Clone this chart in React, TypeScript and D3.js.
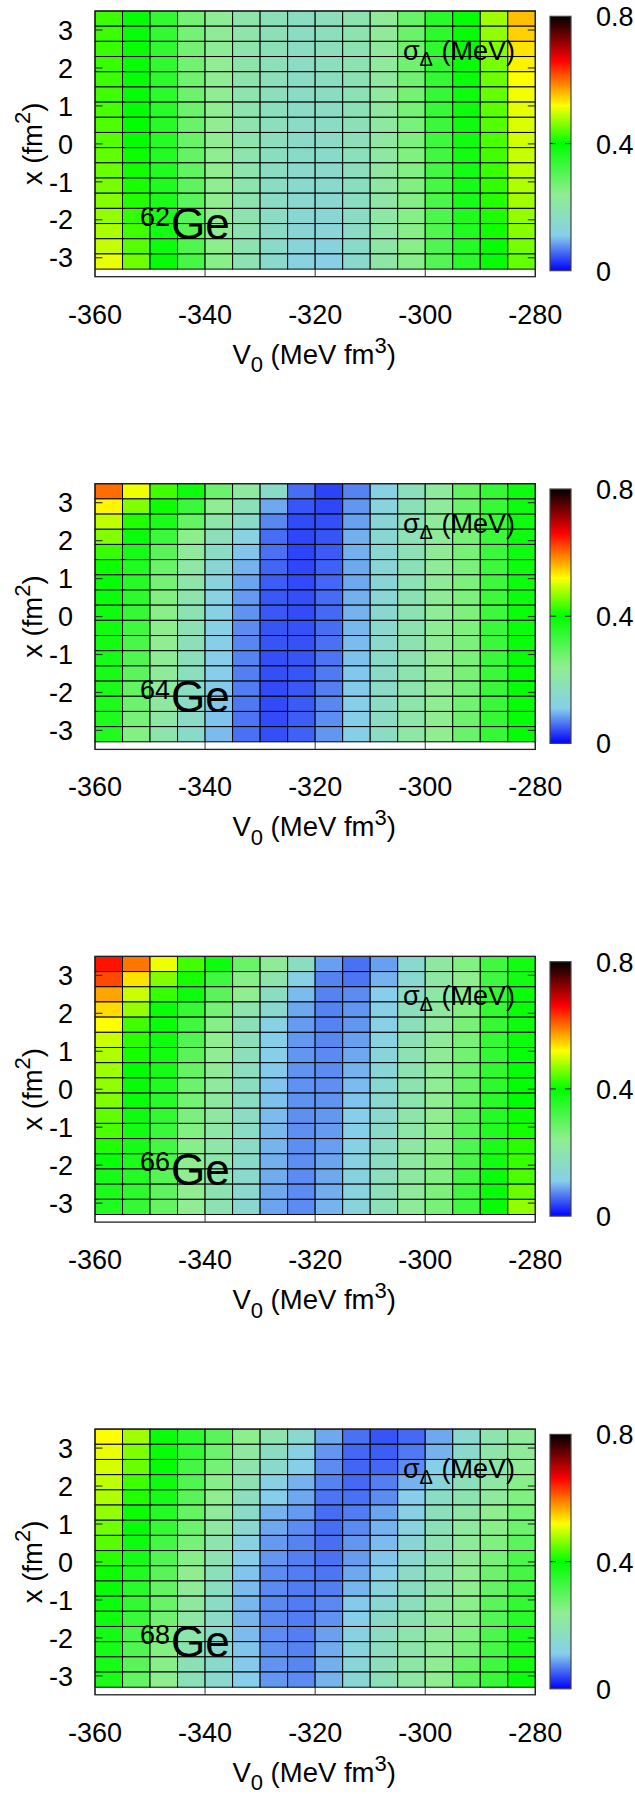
import React from "react";
import * as d3 from "d3";

// V0 cell left edges (MeV fm^3), each cell 5 wide
const v0Left = [-360, -355, -350, -345, -340, -335, -330, -325, -320, -315, -310, -305, -300, -295, -290, -285];
// x (fm^2) cell top edges, each cell 0.4 high (top row first)
const xTop = [3.5, 3.1, 2.7, 2.3, 1.9, 1.5, 1.1, 0.7, 0.3, -0.1, -0.5, -0.9, -1.3, -1.7, -2.1, -2.5, -2.9];
const cellW = 5;
const cellH = 0.4;

const xTicks = [-360, -340, -320, -300, -280];
const yTicks = [-3, -2, -1, 0, 1, 2, 3];
const cbTicks = [0, 0.4, 0.8];
const massNumbers = ["62", "64", "66", "68"];

const paletteStops = [0, 0.11, 0.24, 0.4, 0.52, 0.66, 0.8];
const paletteColors = ["#0000ff", "#87ceeb", "#90ee90", "#00ff00", "#ffff00", "#ff0000", "#000000"];

// sigma_Delta (MeV); one inner array per V0 column, rows from top (x=3.5) down
const ge62 = [
  [0.428, 0.427, 0.426, 0.426, 0.427, 0.43, 0.433, 0.437, 0.44, 0.445, 0.45, 0.456, 0.462, 0.47, 0.48, 0.492, 0.51],
  [0.395, 0.393, 0.392, 0.392, 0.393, 0.395, 0.397, 0.4, 0.402, 0.405, 0.408, 0.412, 0.417, 0.423, 0.43, 0.44, 0.452],
  [0.345, 0.345, 0.347, 0.348, 0.35, 0.352, 0.354, 0.356, 0.358, 0.36, 0.363, 0.366, 0.37, 0.375, 0.38, 0.386, 0.395],
  [0.27, 0.27, 0.272, 0.274, 0.276, 0.278, 0.28, 0.282, 0.285, 0.288, 0.291, 0.294, 0.298, 0.302, 0.307, 0.313, 0.322],
  [0.232, 0.232, 0.232, 0.233, 0.233, 0.234, 0.234, 0.235, 0.236, 0.237, 0.238, 0.239, 0.24, 0.241, 0.243, 0.245, 0.248],
  [0.203, 0.202, 0.202, 0.201, 0.201, 0.2, 0.2, 0.2, 0.2, 0.199, 0.199, 0.198, 0.197, 0.196, 0.195, 0.194, 0.193],
  [0.185, 0.184, 0.183, 0.182, 0.181, 0.18, 0.178, 0.176, 0.174, 0.172, 0.17, 0.168, 0.166, 0.163, 0.16, 0.157, 0.153],
  [0.17, 0.169, 0.168, 0.167, 0.166, 0.165, 0.163, 0.161, 0.159, 0.157, 0.155, 0.152, 0.149, 0.145, 0.14, 0.133, 0.125],
  [0.18, 0.178, 0.176, 0.174, 0.172, 0.17, 0.168, 0.165, 0.162, 0.159, 0.156, 0.152, 0.148, 0.143, 0.137, 0.128, 0.117],
  [0.197, 0.195, 0.193, 0.191, 0.189, 0.187, 0.185, 0.183, 0.181, 0.178, 0.175, 0.172, 0.169, 0.166, 0.162, 0.158, 0.153],
  [0.228, 0.226, 0.224, 0.222, 0.22, 0.219, 0.218, 0.217, 0.216, 0.215, 0.214, 0.213, 0.212, 0.211, 0.21, 0.209, 0.208],
  [0.285, 0.282, 0.279, 0.276, 0.273, 0.27, 0.267, 0.264, 0.261, 0.258, 0.256, 0.254, 0.252, 0.25, 0.249, 0.248, 0.247],
  [0.355, 0.352, 0.349, 0.346, 0.343, 0.34, 0.337, 0.334, 0.331, 0.328, 0.325, 0.322, 0.319, 0.316, 0.313, 0.31, 0.305],
  [0.398, 0.396, 0.394, 0.392, 0.39, 0.388, 0.386, 0.384, 0.382, 0.38, 0.378, 0.375, 0.372, 0.368, 0.364, 0.36, 0.355],
  [0.475, 0.468, 0.462, 0.456, 0.451, 0.447, 0.443, 0.439, 0.435, 0.431, 0.427, 0.423, 0.418, 0.413, 0.408, 0.402, 0.395],
  [0.555, 0.545, 0.535, 0.527, 0.52, 0.514, 0.508, 0.503, 0.498, 0.493, 0.488, 0.482, 0.476, 0.47, 0.463, 0.455, 0.447],
];

const ge64 = [
  [0.6, 0.525, 0.49, 0.46, 0.425, 0.405, 0.395, 0.39, 0.385, 0.383, 0.38, 0.378, 0.375, 0.372, 0.37, 0.368, 0.365],
  [0.513, 0.46, 0.415, 0.39, 0.375, 0.365, 0.358, 0.35, 0.342, 0.33, 0.32, 0.31, 0.298, 0.29, 0.28, 0.268, 0.255],
  [0.43, 0.405, 0.37, 0.335, 0.3, 0.285, 0.27, 0.257, 0.248, 0.242, 0.237, 0.232, 0.225, 0.22, 0.215, 0.21, 0.205],
  [0.385, 0.335, 0.29, 0.245, 0.225, 0.212, 0.205, 0.198, 0.192, 0.187, 0.182, 0.178, 0.174, 0.17, 0.166, 0.162, 0.158],
  [0.28, 0.235, 0.205, 0.18, 0.165, 0.14, 0.13, 0.125, 0.12, 0.117, 0.114, 0.112, 0.11, 0.108, 0.106, 0.104, 0.1],
  [0.22, 0.185, 0.16, 0.125, 0.105, 0.095, 0.088, 0.082, 0.078, 0.075, 0.072, 0.07, 0.068, 0.066, 0.064, 0.062, 0.06],
  [0.16, 0.09, 0.072, 0.058, 0.06, 0.054, 0.05, 0.047, 0.047, 0.045, 0.045, 0.042, 0.042, 0.04, 0.04, 0.04, 0.042],
  [0.058, 0.046, 0.04, 0.038, 0.037, 0.038, 0.04, 0.042, 0.041, 0.043, 0.044, 0.045, 0.046, 0.047, 0.048, 0.05, 0.052],
  [0.036, 0.038, 0.042, 0.045, 0.048, 0.052, 0.055, 0.057, 0.056, 0.058, 0.06, 0.062, 0.065, 0.068, 0.072, 0.076, 0.08],
  [0.07, 0.08, 0.086, 0.094, 0.094, 0.09, 0.09, 0.094, 0.095, 0.098, 0.1, 0.103, 0.106, 0.108, 0.11, 0.112, 0.116],
  [0.12, 0.13, 0.14, 0.145, 0.145, 0.14, 0.14, 0.143, 0.148, 0.152, 0.155, 0.158, 0.16, 0.162, 0.164, 0.166, 0.168],
  [0.18, 0.182, 0.184, 0.186, 0.186, 0.185, 0.186, 0.188, 0.19, 0.192, 0.194, 0.196, 0.198, 0.2, 0.203, 0.206, 0.21],
  [0.222, 0.224, 0.226, 0.228, 0.228, 0.228, 0.228, 0.229, 0.23, 0.231, 0.232, 0.233, 0.234, 0.235, 0.236, 0.237, 0.238],
  [0.29, 0.28, 0.275, 0.27, 0.265, 0.262, 0.26, 0.26, 0.26, 0.261, 0.262, 0.264, 0.266, 0.27, 0.274, 0.278, 0.282],
  [0.34, 0.338, 0.336, 0.334, 0.333, 0.332, 0.332, 0.332, 0.332, 0.333, 0.334, 0.335, 0.336, 0.337, 0.338, 0.34, 0.342],
  [0.385, 0.385, 0.385, 0.385, 0.385, 0.386, 0.387, 0.388, 0.389, 0.39, 0.39, 0.391, 0.392, 0.392, 0.393, 0.393, 0.394],
];

const ge66 = [
  [0.65, 0.62, 0.57, 0.54, 0.52, 0.495, 0.483, 0.475, 0.468, 0.46, 0.445, 0.435, 0.415, 0.39, 0.375, 0.37, 0.365],
  [0.595, 0.536, 0.495, 0.47, 0.43, 0.42, 0.41, 0.4, 0.395, 0.39, 0.385, 0.38, 0.375, 0.37, 0.36, 0.35, 0.34],
  [0.513, 0.46, 0.425, 0.39, 0.39, 0.385, 0.38, 0.375, 0.365, 0.355, 0.345, 0.335, 0.325, 0.315, 0.305, 0.295, 0.29],
  [0.43, 0.41, 0.385, 0.34, 0.33, 0.31, 0.3, 0.29, 0.28, 0.27, 0.262, 0.255, 0.25, 0.245, 0.24, 0.237, 0.235],
  [0.385, 0.33, 0.3, 0.27, 0.25, 0.24, 0.235, 0.228, 0.222, 0.218, 0.214, 0.21, 0.206, 0.202, 0.198, 0.194, 0.19],
  [0.285, 0.25, 0.24, 0.2, 0.185, 0.18, 0.178, 0.175, 0.172, 0.17, 0.168, 0.165, 0.162, 0.158, 0.155, 0.152, 0.148],
  [0.228, 0.2, 0.17, 0.155, 0.12, 0.115, 0.11, 0.108, 0.105, 0.103, 0.1, 0.098, 0.096, 0.094, 0.092, 0.09, 0.088],
  [0.17, 0.12, 0.1, 0.09, 0.083, 0.081, 0.08, 0.079, 0.078, 0.078, 0.077, 0.077, 0.076, 0.076, 0.075, 0.075, 0.075],
  [0.085, 0.07, 0.07, 0.07, 0.07, 0.072, 0.074, 0.075, 0.077, 0.079, 0.081, 0.083, 0.085, 0.088, 0.09, 0.093, 0.096],
  [0.06, 0.062, 0.075, 0.08, 0.08, 0.085, 0.09, 0.095, 0.1, 0.105, 0.11, 0.115, 0.118, 0.122, 0.126, 0.13, 0.135],
  [0.085, 0.095, 0.11, 0.118, 0.118, 0.125, 0.135, 0.14, 0.145, 0.15, 0.155, 0.16, 0.165, 0.17, 0.175, 0.18, 0.185],
  [0.15, 0.15, 0.165, 0.18, 0.18, 0.185, 0.19, 0.193, 0.196, 0.2, 0.203, 0.207, 0.21, 0.214, 0.218, 0.222, 0.226],
  [0.215, 0.212, 0.21, 0.22, 0.22, 0.225, 0.228, 0.23, 0.233, 0.236, 0.24, 0.244, 0.248, 0.252, 0.256, 0.26, 0.265],
  [0.255, 0.238, 0.245, 0.255, 0.265, 0.268, 0.272, 0.277, 0.282, 0.288, 0.295, 0.302, 0.31, 0.318, 0.325, 0.33, 0.33],
  [0.33, 0.33, 0.34, 0.34, 0.34, 0.342, 0.345, 0.348, 0.35, 0.355, 0.36, 0.365, 0.37, 0.38, 0.39, 0.395, 0.395],
  [0.38, 0.38, 0.39, 0.39, 0.385, 0.387, 0.39, 0.393, 0.397, 0.4, 0.405, 0.41, 0.42, 0.425, 0.435, 0.45, 0.468],
];

const ge68 = [
  [0.52, 0.51, 0.5, 0.49, 0.482, 0.468, 0.453, 0.44, 0.42, 0.405, 0.395, 0.39, 0.385, 0.38, 0.377, 0.374, 0.37],
  [0.475, 0.46, 0.45, 0.43, 0.415, 0.405, 0.395, 0.385, 0.375, 0.365, 0.355, 0.345, 0.335, 0.32, 0.31, 0.3, 0.29],
  [0.39, 0.393, 0.395, 0.385, 0.375, 0.36, 0.34, 0.325, 0.31, 0.3, 0.29, 0.283, 0.275, 0.265, 0.255, 0.248, 0.242],
  [0.35, 0.34, 0.325, 0.31, 0.3, 0.29, 0.28, 0.265, 0.25, 0.24, 0.228, 0.218, 0.21, 0.2, 0.192, 0.188, 0.185],
  [0.3, 0.28, 0.27, 0.25, 0.24, 0.225, 0.215, 0.2, 0.19, 0.178, 0.172, 0.165, 0.162, 0.158, 0.155, 0.153, 0.152],
  [0.245, 0.215, 0.2, 0.19, 0.175, 0.16, 0.15, 0.125, 0.115, 0.105, 0.1, 0.098, 0.097, 0.1, 0.105, 0.108, 0.112],
  [0.2, 0.17, 0.155, 0.12, 0.112, 0.095, 0.09, 0.082, 0.08, 0.075, 0.074, 0.073, 0.073, 0.075, 0.077, 0.079, 0.081],
  [0.15, 0.12, 0.115, 0.095, 0.09, 0.082, 0.075, 0.07, 0.068, 0.067, 0.066, 0.066, 0.067, 0.068, 0.07, 0.072, 0.075],
  [0.09, 0.08, 0.075, 0.07, 0.062, 0.058, 0.058, 0.059, 0.06, 0.063, 0.068, 0.073, 0.078, 0.086, 0.092, 0.094, 0.096],
  [0.06, 0.055, 0.054, 0.056, 0.06, 0.066, 0.074, 0.08, 0.083, 0.09, 0.097, 0.108, 0.115, 0.122, 0.13, 0.138, 0.142],
  [0.045, 0.05, 0.055, 0.068, 0.075, 0.088, 0.095, 0.1, 0.105, 0.115, 0.13, 0.145, 0.16, 0.168, 0.175, 0.18, 0.183],
  [0.056, 0.065, 0.075, 0.095, 0.11, 0.12, 0.13, 0.14, 0.15, 0.162, 0.17, 0.18, 0.19, 0.198, 0.205, 0.21, 0.212],
  [0.09, 0.095, 0.11, 0.135, 0.165, 0.178, 0.182, 0.19, 0.192, 0.198, 0.205, 0.218, 0.222, 0.226, 0.23, 0.235, 0.238],
  [0.15, 0.155, 0.165, 0.18, 0.195, 0.21, 0.22, 0.226, 0.228, 0.235, 0.24, 0.245, 0.25, 0.258, 0.268, 0.285, 0.295],
  [0.2, 0.205, 0.2, 0.212, 0.222, 0.238, 0.248, 0.258, 0.268, 0.278, 0.288, 0.298, 0.305, 0.315, 0.322, 0.33, 0.338],
  [0.225, 0.227, 0.235, 0.248, 0.258, 0.268, 0.28, 0.298, 0.315, 0.325, 0.335, 0.345, 0.355, 0.37, 0.375, 0.382, 0.39],
];

const panelData = [ge62, ge64, ge66, ge68];

const FONT = "'Liberation Sans', Arial, Helvetica, sans-serif";
const W = 635;
const H = 1794;
const PANEL_DY = 472.7;
const plotL = 95;
const plotR = 535.3;
const plotT = 11;
const plotB = 276.7;
const cbL = 550;
const cbR = 571;
const cbTop = 16.3;
const cbBot = 270.7;

const xScale = d3.scaleLinear().domain([-360, -280]).range([plotL, plotR]);
const yScale = d3.scaleLinear().domain([-3.5, 3.5]).range([plotB, plotT]);
const cbScale = d3.scaleLinear().domain([0, 0.8]).range([cbBot, cbTop]);
const color = d3
  .scaleLinear<string>()
  .domain(paletteStops)
  .range(paletteColors)
  .interpolate(d3.interpolateRgb)
  .clamp(true);

function Panel({ data, mass, index }: { data: number[][]; mass: string; index: number }) {
  const oy = index * PANEL_DY;
  return (
    <g transform={`translate(0,${oy})`}>
      <rect x={plotL} y={plotT} width={plotR - plotL} height={plotB - plotT} fill="#ffffff" />
      {data.map((col, c) =>
        col.map((v, r) => {
          const x0 = xScale(v0Left[c]);
          const x1 = xScale(v0Left[c] + cellW);
          const y0 = yScale(xTop[r]);
          const y1 = yScale(xTop[r] - cellH);
          return (
            <rect
              key={`${c}-${r}`}
              x={x0}
              y={y0}
              width={x1 - x0}
              height={y1 - y0}
              fill={color(v)}
              stroke="#000"
              strokeWidth={1}
            />
          );
        })
      )}
      {xTicks.map((t) => (
        <line key={`xt${t}`} x1={xScale(t)} x2={xScale(t)} y1={plotB} y2={yScale(-3.3)} stroke="#333" strokeWidth={1} />
      ))}
      {yTicks.map((t) => (
        <g key={`yt${t}`}>
          <line x1={plotL} x2={plotL + 7.5} y1={yScale(t)} y2={yScale(t)} stroke="#333" strokeWidth={1.2} />
          <line x1={plotR - 7.5} x2={plotR} y1={yScale(t)} y2={yScale(t)} stroke="#333" strokeWidth={1.2} />
        </g>
      ))}
      <rect x={plotL} y={plotT} width={plotR - plotL} height={plotB - plotT} fill="none" stroke="#222" strokeWidth={1.3} />

      {yTicks.map((t) => (
        <text key={`yl${t}`} x={73} y={yScale(t) + 9.7} textAnchor="end" fontSize={27} fontFamily={FONT} fill="#000">
          {t}
        </text>
      ))}
      {xTicks.map((t) => (
        <text key={`xl${t}`} x={xScale(t)} y={323.5} textAnchor="middle" fontSize={27} fontFamily={FONT} fill="#000">
          {t}
        </text>
      ))}

      <text x={(plotL + plotR) / 2 - 1} y={363.7} textAnchor="middle" fontSize={27.5} fontFamily={FONT} fill="#000">
        V<tspan dy={8.5} fontSize={22}>0</tspan>
        <tspan dy={-8.5}> (MeV fm</tspan>
        <tspan dy={-11} fontSize={22}>3</tspan>
        <tspan dy={11}>)</tspan>
      </text>
      <text
        transform={`translate(42,${(plotT + plotB) / 2}) rotate(-90)`}
        textAnchor="middle"
        fontSize={27.5}
        fontFamily={FONT}
        fill="#000"
      >
        x (fm<tspan dy={-12} fontSize={22}>2</tspan>
        <tspan dy={12}>)</tspan>
      </text>

      <rect x={cbL} y={cbTop} width={cbR - cbL} height={cbBot - cbTop} fill="url(#cbGrad)" stroke="#444" strokeWidth={1.2} />
      {cbTicks.map((t) => (
        <g key={`cb${t}`}>
          {t > 0 && t < 0.8 && (
            <>
              <line x1={cbL} x2={cbL + 6} y1={cbScale(t)} y2={cbScale(t)} stroke="#333" strokeWidth={1.2} />
              <line x1={cbR - 6} x2={cbR} y1={cbScale(t)} y2={cbScale(t)} stroke="#333" strokeWidth={1.2} />
            </>
          )}
          <text x={596} y={cbScale(t) + 10} fontSize={27} fontFamily={FONT} fill="#000">
            {t}
          </text>
        </g>
      ))}

      <text x={403} y={60} fontSize={27} fontFamily={FONT} fill="#000">
        σ
      </text>
      <text x={419.5} y={66} fontSize={20} fontFamily={FONT} fill="#000">
        Δ
      </text>
      <text x={441.5} y={60} fontSize={27} fontFamily={FONT} fill="#000">
        (MeV)
      </text>
      <text x={140} y={226} fontSize={27} fontFamily={FONT} fill="#000">
        {mass}
      </text>
      <text x={171} y={239.3} fontSize={44} fontFamily={FONT} fill="#000">
        Ge
      </text>
    </g>
  );
}

export default function App() {
  return (
    <svg
      width={W}
      height={H}
      viewBox={`0 0 ${W} ${H}`}
      style={{ position: "absolute", left: 0, top: 0, background: "#fff" }}
    >
      <defs>
        <linearGradient id="cbGrad" x1="0" y1="1" x2="0" y2="0">
          {paletteStops.map((s, i) => (
            <stop key={s} offset={s / 0.8} stopColor={paletteColors[i]} />
          ))}
        </linearGradient>
      </defs>
      <rect x={0} y={0} width={W} height={H} fill="#fff" />
      {panelData.map((d, i) => (
        <Panel key={i} data={d} mass={massNumbers[i]} index={i} />
      ))}
    </svg>
  );
}
